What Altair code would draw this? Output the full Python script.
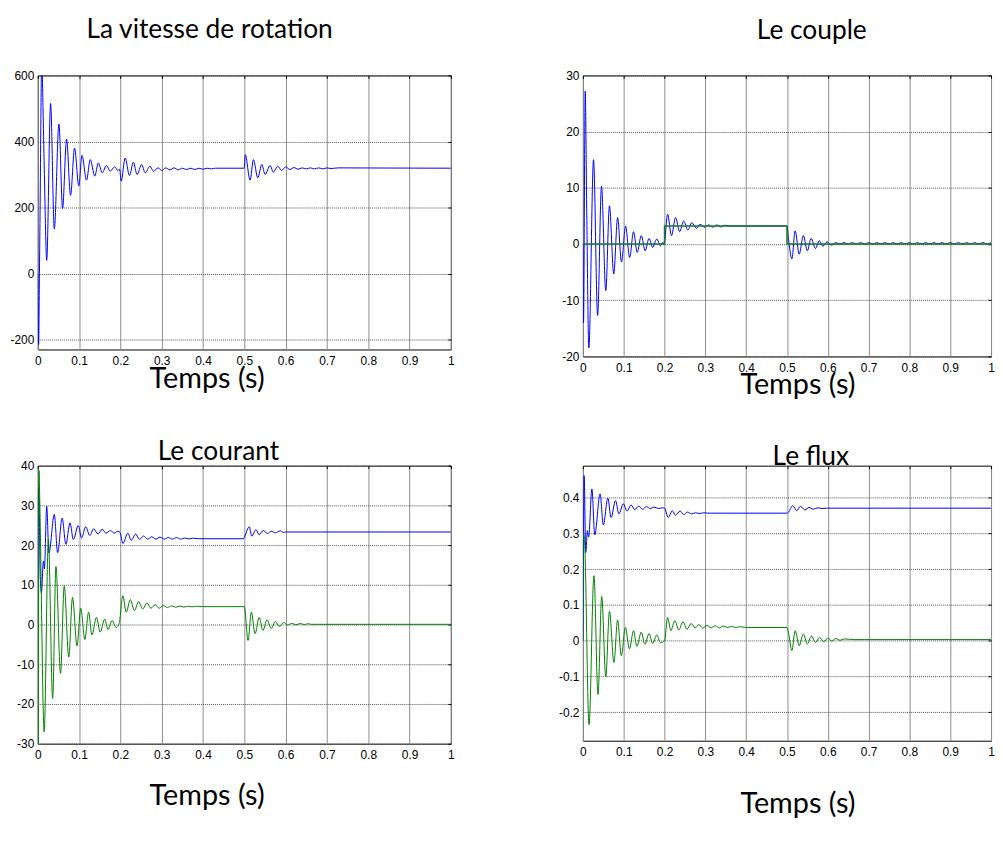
import altair as alt
import pandas as pd

# ---------------- data ----------------
x_ticks = [0, 0.1, 0.2, 0.3, 0.4, 0.5, 0.6, 0.7, 0.8, 0.9, 1]

# Speed (rad/s)
speed_t = [0, 0.002, 0.004, 0.006, 0.0075, 0.0096, 0.013, 0.016, 0.0216,
           0.031, 0.040, 0.0512, 0.060, 0.0697, 0.0793, 0.089, 0.0993, 0.107, 0.118,
           0.127, 0.138, 0.1465, 0.156, 0.166, 0.1754, 0.186, 0.194, 0.198,
           0.2019, 0.2115, 0.2219, 0.2315, 0.2403, 0.2515, 0.26, 0.2715, 0.28, 0.2915, 0.30,
           0.31, 0.32, 0.33, 0.34, 0.35, 0.36, 0.37, 0.38, 0.39, 0.40, 0.41, 0.42, 0.43,
           0.4998, 0.5022, 0.514, 0.522, 0.5326, 0.5423, 0.5503, 0.5623, 0.5703, 0.5807, 0.5903, 0.60, 0.6105,
           0.62, 0.63, 0.64, 0.65, 0.66, 0.67, 0.68, 0.69, 0.70, 0.71, 0.727, 1.0]
speed_v = [0, -215, 0, 250, 470, 650, 480, 300, 40,
           515, 135, 453, 197, 407, 237, 380, 265, 358, 283,
           345, 295, 335, 305, 327, 310, 323, 312, 316,
           280, 350, 297, 337, 300, 330, 305, 325, 310, 320, 312,
           320, 314, 320, 314, 319, 315, 319, 315, 319, 316, 319, 317, 319,
           319, 360, 283, 345, 290, 330, 300, 327, 307, 325, 312, 323, 315,
           321, 316, 320, 317, 320, 317, 320, 317, 320, 318, 320, 319]

# Torque (N.m): electromagnetic (blue) and load reference (green)
torque_t = [0, 0.0015, 0.0056, 0.0095, 0.0145,
            0.026, 0.036, 0.0455, 0.056, 0.065, 0.0755, 0.085, 0.0945, 0.1045, 0.1145,
            0.124, 0.133, 0.143, 0.1525, 0.162, 0.171, 0.181, 0.19, 0.196, 0.199,
            0.2075, 0.217, 0.227, 0.237, 0.247, 0.257, 0.267, 0.278, 0.287, 0.298,
            0.308, 0.318, 0.328, 0.338, 0.348, 0.358, 0.5, 0.5036,
            0.512, 0.52, 0.53, 0.54, 0.55, 0.559, 0.57, 0.579, 0.588, 0.598, 0.609,
            0.62, 0.63, 0.64, 0.65, 0.66, 0.67, 0.68, 0.69, 0.70, 0.71, 0.72, 0.73, 0.74,
            0.75, 0.76, 0.77, 0.78, 0.79, 0.80, 0.81, 0.82, 0.83, 0.84, 0.85, 0.86, 0.87,
            0.88, 0.89, 0.90, 0.91, 0.92, 0.93, 0.94, 0.95, 0.96, 0.97, 0.98, 0.99, 1.0]
torque_v = [0, -14, 27.2, 5, -18.5,
            15, -12.7, 10.3, -8.3, 6.8, -5.3, 4.7, -3.2, 3.2, -2.4,
            2.2, -1.5, 1.5, -1.2, 1.0, -0.6, 0.9, -0.3, 0.3, 0,
            5.3, 1.5, 4.7, 2.2, 4.1, 2.5, 3.8, 2.8, 3.5, 3.0,
            3.4, 3.0, 3.4, 3.05, 3.35, 3.2, 3.2, 1.0,
            -2.65, 2.35, -1.8, 1.5, -1.2, 1.0, -0.8, 0.6, -0.4, 0.4, -0.2,
            0.25, 0, 0.25, 0, 0.25, 0, 0.25, 0, 0.25, 0, 0.25, 0, 0.25,
            0, 0.25, 0, 0.25, 0, 0.25, 0, 0.25, 0, 0.25, 0, 0.25, 0,
            0.25, 0, 0.25, 0, 0.25, 0, 0.25, 0, 0.25, 0, 0.25, 0, 0.25]
load_t = [0, 0.2, 0.2, 0.5, 0.5, 1.0]
load_v = [0, 0, 3.2, 3.2, 0, 0]

# Currents (A)
cur_a_t = [0, 0.001, 0.0025, 0.006, 0.0088, 0.0137, 0.016, 0.0216,
           0.027, 0.040, 0.048, 0.059, 0.068, 0.078, 0.086, 0.098, 0.106,
           0.116, 0.126, 0.135, 0.146, 0.156, 0.165, 0.176, 0.185, 0.194, 0.199,
           0.206, 0.218, 0.226, 0.237, 0.246, 0.256, 0.266, 0.276, 0.286, 0.296,
           0.306, 0.316, 0.326, 0.336, 0.346, 0.356, 0.366, 0.376, 0.39, 0.497,
           0.512, 0.518, 0.528, 0.536, 0.546, 0.556, 0.565, 0.575, 0.587, 0.595, 0.60, 1.0]
cur_a_v = [0, 30, 34.3, 12, 8, 16, 14, 29.75,
           18, 27.7, 18.1, 26.8, 20.2, 25.6, 21.4, 24.9, 21.8,
           24.6, 22.4, 24.1, 22.8, 24.0, 23.0, 23.7, 23.0, 23.5, 23.2,
           20.4, 23.0, 21.2, 22.8, 21.4, 22.3, 21.5, 22.1, 21.5, 22.0,
           21.5, 21.9, 21.5, 21.9, 21.5, 21.8, 21.55, 21.75, 21.6, 21.6,
           24.6, 22.25, 23.9, 22.6, 23.7, 22.9, 23.5, 23.1, 23.6, 23.2, 23.3, 23.3]
cur_b_t = [0, 0.0006, 0.003, 0.005, 0.0155, 0.0256,
           0.036, 0.044, 0.055, 0.064, 0.075, 0.084, 0.095, 0.104, 0.114, 0.123,
           0.131, 0.142, 0.151, 0.162, 0.170, 0.180, 0.190, 0.197,
           0.206, 0.214, 0.224, 0.234, 0.244, 0.254, 0.264, 0.274, 0.284, 0.294,
           0.304, 0.314, 0.324, 0.334, 0.344, 0.354, 0.364, 0.374, 0.384, 0.40, 0.50,
           0.509, 0.517, 0.526, 0.536, 0.545, 0.555, 0.565, 0.575, 0.585, 0.595,
           0.605, 0.615, 0.625, 0.635, 0.645, 0.655, 0.662, 1.0]
cur_b_v = [0, -30, 38.8, 30, -27, 21.4,
           -18.6, 14.6, -12.3, 9.75, -8.2, 6.8, -5.4, 4.1, -3.75, 3.1,
           -2.6, 1.8, -1.9, 1.4, -1.25, 1.0, -0.8, 0.3,
           7.25, 3.1, 6.25, 3.5, 5.75, 3.9, 5.4, 4.1, 5.0, 4.1,
           4.8, 4.3, 4.7, 4.35, 4.65, 4.4, 4.6, 4.45, 4.6, 4.5, 4.5,
           -4, 3.1, -2.3, 1.8, -1.5, 1.2, -1.0, 0.75, -0.5, 0.5,
           -0.1, 0.3, -0.1, 0.25, 0, 0.2, 0.05, 0.05]

# Fluxes (Wb)
flux_a_t = [0, 0.001, 0.003, 0.007, 0.011, 0.014, 0.022, 0.029,
            0.042, 0.05, 0.061, 0.069, 0.08, 0.088, 0.099, 0.108, 0.118, 0.127,
            0.137, 0.146, 0.156, 0.165, 0.175, 0.185, 0.196, 0.2,
            0.209, 0.219, 0.227, 0.238, 0.247, 0.256, 0.266, 0.276, 0.286, 0.296,
            0.306, 0.5, 0.504,
            0.514, 0.524, 0.533, 0.544, 0.554, 0.564, 0.576, 0.586, 0.596, 1.0]
flux_a_v = [0, 0.18, 0.462, 0.247, 0.308, 0.29, 0.425, 0.296,
            0.411, 0.324, 0.399, 0.345, 0.392, 0.355, 0.383, 0.363, 0.38, 0.367,
            0.377, 0.368, 0.375, 0.37, 0.374, 0.37, 0.372, 0.371,
            0.345, 0.364, 0.351, 0.363, 0.353, 0.36, 0.355, 0.358, 0.356, 0.358,
            0.357, 0.357, 0.36,
            0.378, 0.364, 0.376, 0.366, 0.373, 0.368, 0.372, 0.37, 0.371, 0.371]
flux_b_t = [0, 0.0008, 0.002, 0.004, 0.015, 0.027,
            0.037, 0.046, 0.056, 0.065, 0.076, 0.085, 0.094, 0.104, 0.114, 0.124,
            0.132, 0.143, 0.152, 0.162, 0.171, 0.181, 0.19, 0.2,
            0.2075, 0.2155, 0.225, 0.235, 0.245, 0.255, 0.265, 0.275, 0.284, 0.294,
            0.304, 0.314, 0.324, 0.334, 0.344, 0.354, 0.364, 0.374, 0.384, 0.402,
            0.5, 0.504,
            0.512, 0.52, 0.53, 0.54, 0.55, 0.56, 0.57, 0.58, 0.59, 0.6,
            0.61, 0.62, 0.63, 0.64, 0.665, 1.0]
flux_b_v = [0, 0.3, 0.3, 0.28, -0.235, 0.182,
            -0.151, 0.124, -0.101, 0.082, -0.061, 0.058, -0.042, 0.037, -0.023, 0.028,
            -0.016, 0.024, -0.01, 0.02, -0.008, 0.016, -0.006, 0.0,
            0.065, 0.028, 0.056, 0.03, 0.053, 0.032, 0.048, 0.036, 0.045, 0.035,
            0.043, 0.036, 0.042, 0.036, 0.041, 0.037, 0.04, 0.037, 0.039, 0.037,
            0.037, 0.02,
            -0.028, 0.028, -0.014, 0.019, -0.009, 0.013, -0.005, 0.009, -0.003, 0.007,
            -0.001, 0.006, 0.001, 0.005, 0.003, 0.003]

BLUE = "#0000ff"
GREEN = "#008000"
DKGREEN = "#1d7a1d"

TICK_FONT = "Liberation Sans"
TXT_FONT = "Lato"
TITLE_SIZE = 26.5
XT_SIZE = 29


def x_axis(tx, ty):
    return alt.Axis(values=x_ticks, grid=True, gridColor="#8f8f8f", gridWidth=1,
                    domain=False, ticks=False, labelFlush=False,
                    labelFont=TICK_FONT, labelFontSize=12, labelColor="#000",
                    labelPadding=6, labelExpr="format(datum.value, '~g')",
                    title="Temps (s)", titleFont=TXT_FONT, titleFontSize=XT_SIZE,
                    titleFontWeight="normal", titleColor="#000",
                    titleX=tx, titleY=ty, titleBaseline="alphabetic", titleAlign="center")


def y_axis(vals):
    return alt.Axis(values=vals, grid=True, gridColor="#555555", gridDash=[1, 1], gridWidth=1,
                    domain=False, ticks=False, labelFlush=False,
                    labelFont=TICK_FONT, labelFontSize=12, labelColor="#000", labelPadding=4,
                    labelExpr="datum.value < 0 ? '-' + format(-datum.value, '~g') : format(datum.value, '~g')",
                    title=None)


def tick_axis(orient, vals):
    # small inward ticks on the top / right frame (MATLAB style)
    return alt.Axis(orient=orient, values=vals, offset=-3, tickSize=3, tickColor="#000",
                    tickWidth=1, labels=False, grid=False, domain=False, title=None)


def panel(series, ydom, yvals, w, h, title, tdx, toff, tx, ty):
    xs = alt.Scale(domain=[0, 1], nice=False, zero=False)
    ys = alt.Scale(domain=ydom, nice=False, zero=False)
    layers = []
    for k, (tt, vv, color, sw, interp) in enumerate(series):
        df = pd.DataFrame({"t": tt, "v": vv})
        df["i"] = range(len(df))
        layers.append(
            alt.Chart(df).mark_line(color=color, strokeWidth=sw, clip=True, interpolate=interp).encode(
                x=alt.X("t:Q", scale=xs, axis=x_axis(tx, ty) if k == 0 else None),
                y=alt.Y("v:Q", scale=ys, axis=y_axis(yvals) if k == 0 else None),
                order="i:Q",
            )
        )
    tt, vv = series[0][0], series[0][1]
    df0 = pd.DataFrame({"t": tt, "v": vv})
    layers.append(
        alt.Chart(df0).mark_line(strokeOpacity=0, clip=True).encode(
            x=alt.X("t:Q", scale=xs, axis=tick_axis("top", x_ticks)),
            y=alt.Y("v:Q", scale=ys, axis=tick_axis("right", yvals)),
        )
    )
    return alt.layer(*layers).resolve_axis(x="independent", y="independent").properties(
        width=w, height=h,
        title=alt.TitleParams(title, anchor="middle", frame="group", dx=tdx, offset=toff,
                              baseline="alphabetic", font=TXT_FONT, fontSize=TITLE_SIZE,
                              fontWeight="normal", color="#000"),
    )


tl = panel([(speed_t, speed_v, BLUE, 1, "monotone")], [-230, 600], [-200, 0, 200, 400, 600],
           416, 276, "La vitesse de rotation", -35, 5, 170, 38)
tr = panel([(torque_t, torque_v, BLUE, 1, "monotone"), (load_t, load_v, DKGREEN, 1.5, "linear")],
           [-20, 30], [-20, -10, 0, 10, 20, 30],
           411, 283, "Le couple", 25, 4, 216, 37)
bl = panel([(cur_a_t, cur_a_v, BLUE, 1, "monotone"), (cur_b_t, cur_b_v, GREEN, 1, "monotone")],
           [-30, 40], [-30, -20, -10, 0, 10, 20, 30, 40],
           416, 280, "Le courant", -26, -27, 170, 61)
br = panel([(flux_a_t, flux_a_v, BLUE, 1, "monotone"), (flux_b_t, flux_b_v, GREEN, 1, "monotone")],
           [-0.28, 0.49], [-0.2, -0.1, 0, 0.1, 0.2, 0.3, 0.4],
           411, 277, "Le flux", 24, -26, 216, 72)

chart = alt.concat(tl, tr, bl, br, columns=2, spacing={"row": 110, "column": 133},
                   bounds="flush").properties(
    padding={"left": 1, "top": 6, "right": 0, "bottom": 5}
).configure_view(stroke="#000", strokeWidth=1)

chart.save("out.html", embed_options={"renderer": "svg", "actions": False})
